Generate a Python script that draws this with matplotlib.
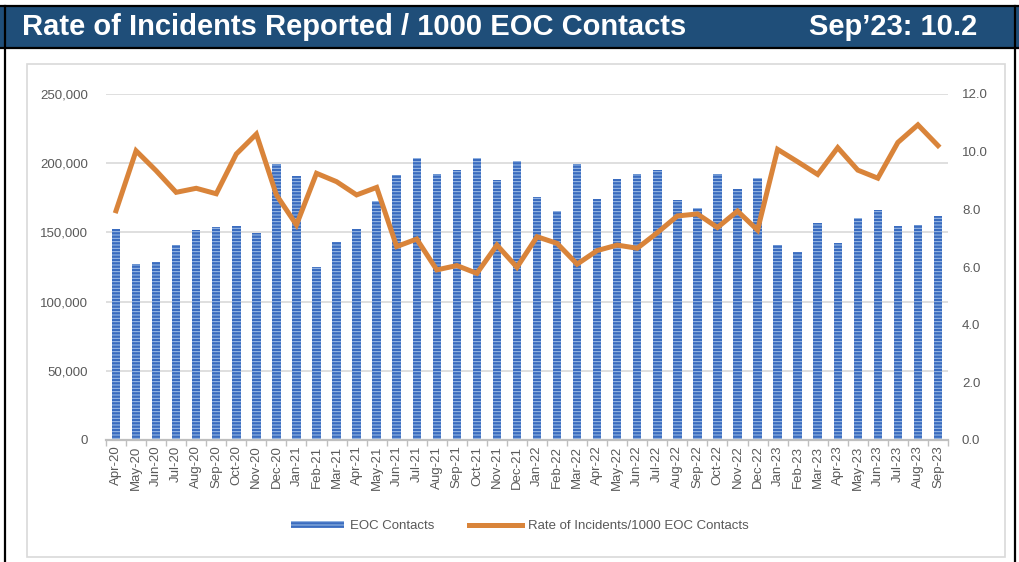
import numpy as np
import matplotlib.pyplot as plt
import matplotlib.ticker as mticker
from matplotlib.patches import Rectangle

plt.rcParams['font.family'] = ['Liberation Sans', 'DejaVu Sans']
plt.rcParams['hatch.linewidth'] = 0.7

# months Apr-20 .. Sep-23
months = ["Apr-20", "May-20", "Jun-20", "Jul-20", "Aug-20", "Sep-20", "Oct-20", "Nov-20", "Dec-20",
          "Jan-21", "Feb-21", "Mar-21", "Apr-21", "May-21", "Jun-21", "Jul-21", "Aug-21", "Sep-21",
          "Oct-21", "Nov-21", "Dec-21", "Jan-22", "Feb-22", "Mar-22", "Apr-22", "May-22", "Jun-22",
          "Jul-22", "Aug-22", "Sep-22", "Oct-22", "Nov-22", "Dec-22", "Jan-23", "Feb-23", "Mar-23",
          "Apr-23", "May-23", "Jun-23", "Jul-23", "Aug-23", "Sep-23"]

eoc_contacts = [152500, 127000, 128500, 141000, 152000, 154000, 154500, 149500, 199500,
                191000, 125000, 143000, 152500, 172500, 191500, 204000, 192000, 195000,
                204000, 188000, 201500, 175500, 165500, 199500, 174000, 188500, 192000,
                195000, 173500, 167500, 192500, 181000, 189500, 141000, 135500, 156500,
                142500, 160500, 166000, 154500, 155500, 162000]

incident_rate = [7.95, 10.03, 9.34, 8.59, 8.73, 8.54, 9.92, 10.61, 8.50,
                 7.46, 9.25, 8.96, 8.50, 8.76, 6.71, 6.97, 5.90, 6.05,
                 5.78, 6.76, 5.99, 7.05, 6.82, 6.10, 6.57, 6.76, 6.65,
                 7.19, 7.77, 7.84, 7.37, 7.94, 7.28, 10.08, 9.65, 9.21,
                 10.14, 9.36, 9.08, 10.32, 10.93, 10.21]

latest_label = "Sep\u201923: 10.2"

fig = plt.figure(figsize=(10.2, 5.62), dpi=100)

# header bar + frame
fig.patches.append(Rectangle((0, 1 - 47/562), 1, 41/562, transform=fig.transFigure,
                             facecolor='#1f4e79', edgecolor='none', zorder=0))
fig.add_artist(plt.Line2D([0, 1], [1 - 6/562, 1 - 6/562], color='black', lw=1.6))
fig.add_artist(plt.Line2D([0, 1], [1 - 47.5/562, 1 - 47.5/562], color='black', lw=1.6))
fig.add_artist(plt.Line2D([5/1020, 5/1020], [0, 1 - 6/562], color='black', lw=1.6))
fig.add_artist(plt.Line2D([1015/1020, 1015/1020], [0, 1 - 6/562], color='black', lw=1.6))
fig.patches.append(Rectangle((27/1020, 1 - 557/562), 978/1020, 493/562, transform=fig.transFigure,
                             facecolor='none', edgecolor='#d9d9d9', lw=1.2))

fig.text(22/1020, 1 - 27/562, "Rate of Incidents Reported / 1000 EOC Contacts", color='white',
         fontsize=21, fontweight='bold', va='center', ha='left')
fig.text(977/1020, 1 - 27/562, latest_label, color='white',
         fontsize=21, fontweight='bold', va='center', ha='right')

ax = fig.add_axes([106/1020, 1 - 440/562, 842/1020, 346/562])
x = np.arange(len(months))

ax.bar(x, eoc_contacts, width=0.42, color='#3a6cbf', edgecolor='#a3c1e8', linewidth=0,
       hatch='-----', label='EOC Contacts', zorder=2)
ax.set_ylim(0, 250000)
ax.set_xlim(-0.5, len(months) - 0.5)
ax.yaxis.set_major_locator(mticker.MultipleLocator(50000))
ax.yaxis.set_major_formatter(mticker.FuncFormatter(lambda v, p: f"{int(v):,}"))
ax.grid(axis='y', color='#d9d9d9', lw=1.2, zorder=0)
ax.set_axisbelow(True)
for s in ['top', 'right', 'left']:
    ax.spines[s].set_visible(False)
ax.spines['bottom'].set_color('#bfbfbf')
ax.spines['bottom'].set_linewidth(1.6)
ax.set_xticks(x)
ax.set_xticklabels(months, rotation=90, fontsize=9.5, color='#595959')
ax.set_xticks(np.arange(-0.5, len(months)), minor=True)
ax.tick_params(axis='x', which='major', length=0, pad=4)
ax.tick_params(axis='x', which='minor', length=4, color='#bfbfbf', width=1)
ax.tick_params(axis='y', length=0, labelsize=9.5, labelcolor='#595959', pad=13)

ax2 = ax.twinx()
ax2.plot(x, incident_rate, color='#d9843a', lw=3.6, solid_joinstyle='miter',
         label='Rate of Incidents/1000 EOC Contacts', zorder=3)
ax2.set_ylim(0, 12)
ax2.yaxis.set_major_locator(mticker.MultipleLocator(2))
ax2.yaxis.set_major_formatter(mticker.FormatStrFormatter('%.1f'))
for s in ax2.spines.values():
    s.set_visible(False)
ax2.tick_params(axis='y', length=0, labelsize=9.5, labelcolor='#595959', pad=10)

h1, l1 = ax.get_legend_handles_labels()
h2, l2 = ax2.get_legend_handles_labels()
fig.legend(h1 + h2, l1 + l2, loc='center', bbox_to_anchor=(520/1020, 1 - 526/562), ncol=2,
           frameon=False, fontsize=9.5, labelcolor='#595959', handlelength=4, handleheight=0.45,
           handletextpad=0.5, columnspacing=2.6)

fig.savefig('out.png', dpi=100)
